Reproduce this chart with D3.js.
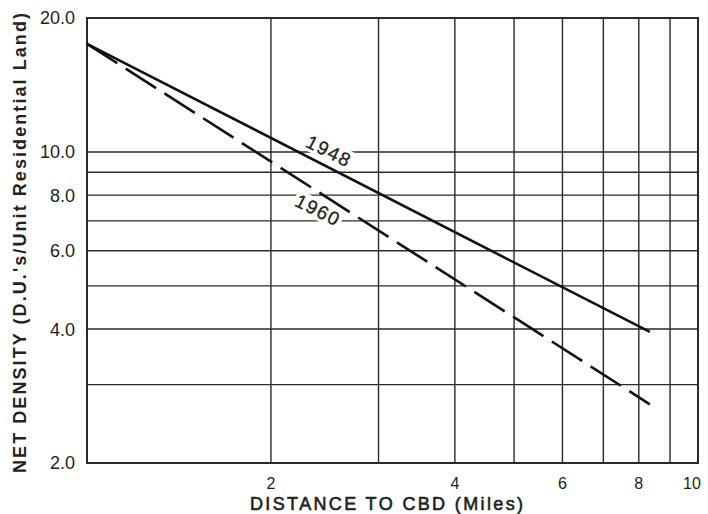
<!DOCTYPE html>
<html><head><meta charset="utf-8">
<script src="https://cdn.jsdelivr.net/npm/d3@7"></script>
<style>body{margin:0;background:#fff}svg{display:block}text{font-family:"Liberation Sans",Arial,sans-serif;fill:#222}</style>
</head><body><svg id="c" width="708" height="514"></svg>
<script>
const xGrid = [2,3,4,5,6,7,8,9];
const yGrid = [3,4,5,6,7,8,9,10];
const xTicks = [2,4,6,8,10];
const yTicks = [2,4,6,8,10,20];
const series1948 = [{x:1,y:17.5},{x:8.34,y:3.94}];
const series1960 = [{x:1,y:17.5},{x:8.34,y:2.71}];

const svg = d3.select("#c");
const L=87, R=698, T=18, B=463;
const x = d3.scaleLog().domain([1,10]).range([L,R]);
const y = d3.scaleLog().domain([2,20]).range([B,T]);
const ink="#2a2a2a";

const g = svg.append("g");
g.selectAll(".vg").data(xGrid).join("line")
 .attr("x1",d=>x(d)).attr("x2",d=>x(d)).attr("y1",T).attr("y2",B)
 .attr("stroke",ink).attr("stroke-width",1.4);
g.selectAll(".hg").data(yGrid).join("line")
 .attr("x1",L).attr("x2",R).attr("y1",d=>y(d)).attr("y2",d=>y(d))
 .attr("stroke",ink).attr("stroke-width",1.4);
g.append("rect").attr("x",L).attr("y",T).attr("width",R-L).attr("height",B-T)
 .attr("fill","none").attr("stroke",ink).attr("stroke-width",2);

const line = d3.line().x(d=>x(d.x)).y(d=>y(d.y));
g.append("path").datum(series1948).attr("d",line).attr("fill","none").attr("stroke","#111").attr("stroke-width",2.6);
g.append("path").datum(series1960).attr("d",line).attr("fill","none").attr("stroke","#111").attr("stroke-width",2.6).attr("stroke-dasharray","36,10");

function label(txt, cx, cy, ang, w){
  const lg = svg.append("g").attr("transform",`translate(${cx},${cy}) rotate(${ang})`);
  lg.append("rect").attr("x",-w/2).attr("y",-10).attr("width",w).attr("height",20).attr("fill","#fff");
  lg.append("text").attr("text-anchor","middle").attr("dy","0.36em").attr("font-size",19).attr("letter-spacing",1.5)
    .attr("stroke","#222").attr("stroke-width",0.3).text(txt);
}
label("1948", 329, 151, 27, 52);
label("1960", 318, 210, 27, 52);

svg.selectAll(".xt").data(xTicks).join("text")
 .attr("x",d=>x(d)-(d===10?6:0)).attr("y",489).attr("text-anchor","middle").attr("font-size",16).text(d=>d);
svg.selectAll(".yt").data(yTicks).join("text")
 .attr("x",75).attr("y",d=>y(d)).attr("dy","0.36em").attr("text-anchor","end").attr("font-size",18).text(d=>d.toFixed(1));

svg.append("text").attr("x",250).attr("y",510).attr("font-size",18).attr("stroke","#222").attr("stroke-width",0.6)
 .attr("textLength",273).attr("lengthAdjust","spacing").text("DISTANCE TO CBD (Miles)");
svg.append("text").attr("transform","translate(26,473) rotate(-90)").attr("font-size",18).attr("font-weight","bold")
 .attr("textLength",460).attr("lengthAdjust","spacing").text("NET DENSITY (D.U.'s/Unit Residential Land)");
</script></body></html>
